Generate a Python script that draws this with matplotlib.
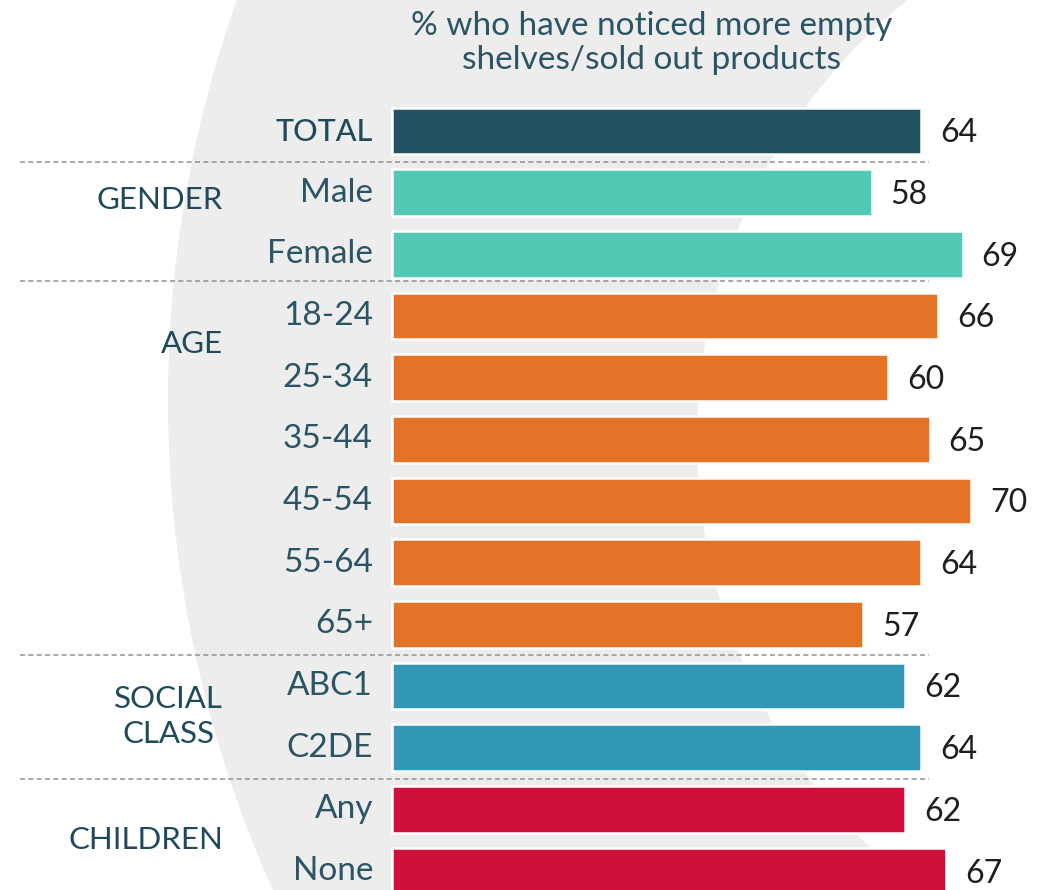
import matplotlib
matplotlib.use("Agg")
import matplotlib.pyplot as plt
from matplotlib.patches import Circle

plt.rcParams['font.family'] = ['Lato', 'DejaVu Sans']

categories = ["TOTAL", "Male", "Female", "18-24", "25-34", "35-44", "45-54",
              "55-64", "65+", "ABC1", "C2DE", "Any", "None"]
values = [64, 58, 69, 66, 60, 65, 70, 64, 57, 62, 64, 62, 67]
groups = ["total", "gender", "gender", "age", "age", "age", "age", "age", "age",
          "social", "social", "children", "children"]
group_labels = {"gender": ("GENDER", 1.12), "age": ("AGE", 3.46),
                "social": ("SOCIAL\nCLASS", 9.5), "children": ("CHILDREN", 11.5)}
group_colors = {"total": "#235160", "gender": "#52C9B4", "age": "#E37326",
                "social": "#3296B5", "children": "#D0103A"}
title = "% who have noticed more empty\nshelves/sold out products"

W, H = 1050, 890
fig = plt.figure(figsize=(W / 100, H / 100), dpi=100)
fig.patch.set_facecolor("white")

# background ring, drawn in pixel coords
bg = fig.add_axes([0, 0, 1, 1])
bg.set_xlim(0, W)
bg.set_ylim(H, 0)
bg.axis("off")
bg.add_patch(Circle((1366, 400), 1198, color="#EDEDED", lw=0))
bg.add_patch(Circle((1262, 440), 565, color="white", lw=0))

# main axes: x in percent units, y in row index
px_per_unit = 8.27
row_px = 61.67
x0_px, y0_px = 392, 131
ax = fig.add_axes([0, 0, 1, 1])
ax.patch.set_alpha(0)
ax.set_xlim(-x0_px / px_per_unit, (W - x0_px) / px_per_unit)
ax.set_ylim((H - y0_px) / row_px, -y0_px / row_px)
ax.axis("off")

rows = list(range(len(categories)))
colors = [group_colors[g] for g in groups]
ax.barh(rows, values, height=0.76, color=colors, edgecolor="white", linewidth=1.8)

label_col = "#2B5464"
for i, (cat, v) in enumerate(zip(categories, values)):
    ax.text(v + 2.3, i + 0.04, str(v), ha="left", va="center", fontsize=23,
            color="#1E1E1E")
    if cat == "TOTAL":
        ax.text(-2.3, i + 0.02, cat, ha="right", va="center", fontsize=22,
                color="#1F4A5A", fontweight="medium")
    else:
        ax.text(-2.3, i, cat, ha="right", va="center", fontsize=24,
                color=label_col)

lab_x = (223 - x0_px) / px_per_unit
for g, (txt, yy) in group_labels.items():
    ax.text(lab_x, yy, txt, ha="right", va="center", fontsize=22.5,
            color="#1F4A5A", multialignment="center", linespacing=1.3)

# dashed separators between groups
for yy in [0.5, 2.43, 8.5, 10.5]:
    ax.plot([(20 - x0_px) / px_per_unit, (929 - x0_px) / px_per_unit], [yy, yy],
            color="#9A9A9A", lw=1.2, ls=(0, (3, 2)))

ax.text((652 - x0_px) / px_per_unit, (43 - y0_px) / row_px, title, ha="center",
        va="center", fontsize=24, color=label_col, linespacing=1.15)

fig.savefig("out.png", dpi=100)
